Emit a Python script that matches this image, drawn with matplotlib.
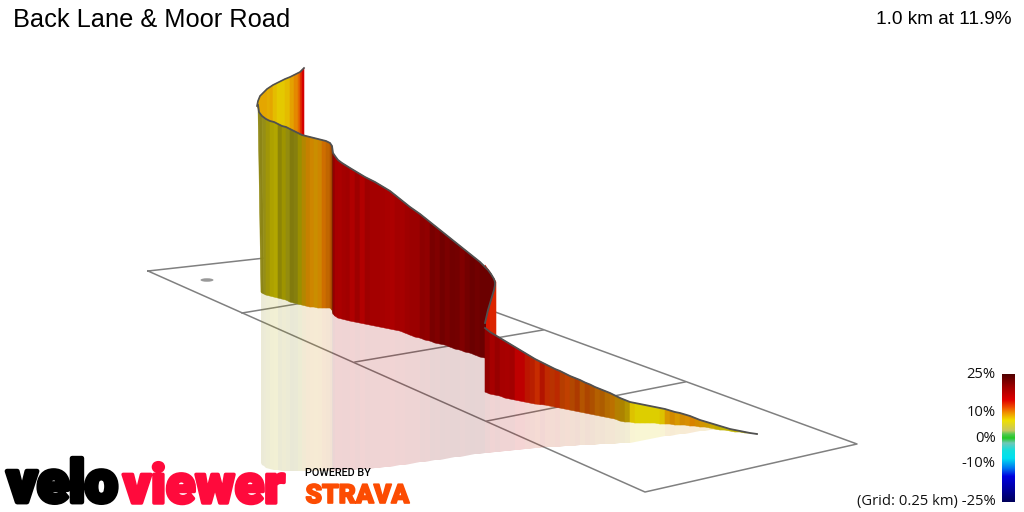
import numpy as np
import matplotlib
matplotlib.use('Agg')
import matplotlib.pyplot as plt
import matplotlib.patheffects as pe
from matplotlib.collections import PolyCollection
from matplotlib.colors import LinearSegmentedColormap
from matplotlib.patches import Ellipse

# grade colour scale
scale_grade = [-25, -20, -15, -12, -8, -5, -2, 0, 1.5, 3, 7, 10, 12, 15, 20, 25]
scale_color = ['#00005a', '#0000a0', '#0000e0', '#0070f0', '#00e0f0', '#10e0e0', '#70c8b8', '#20c820',
               '#50c850', '#c8c860', '#f0e000', '#f09000', '#f05000', '#e00000', '#a00000', '#500000']

# grid on the ground plane, picture pixels
outer_x = [148, 645, 857, 328, 148]
outer_y = [271, 492, 444, 251, 271]
cross_x = [[242, 418], [355, 543], [487, 685]]
cross_y = [[313, 284], [362, 330], [421, 382]]

# far leg of the climb
far_x = [257, 258, 260, 263, 267, 270, 273, 277, 281, 285, 290, 294, 298, 300, 302, 304]
far_top = [106, 101, 96, 93, 89, 87, 85, 83, 81, 79, 77, 75, 73, 72, 70, 68]
far_base = [106, 108, 112, 116, 119, 121, 122, 124, 126, 127, 129, 131, 133, 134, 135, 136]
far_grade = [8.5, 8.5, 8.8, 8.8, 8.5, 8.8, 8, 7.5, 7.5, 8, 9, 10, 11, 13, 15, 17]
far_shade = [0.95] * 16

# middle leg
mid_x = [258, 259, 262, 266, 270, 274, 278, 282, 286, 290, 294, 298, 302, 306, 310, 314, 318, 322, 326, 330,
         332, 333, 335, 338, 342, 346, 350, 355, 360, 365, 370, 375, 380, 385, 390, 395, 400, 405, 410, 415,
         420, 425, 430, 435, 440, 445, 450, 455, 460, 465, 470, 475, 480, 485, 485, 488, 491, 494, 495]
mid_foot = [261, 262, 264, 266, 270, 274, 278, 282, 286, 290, 294, 298, 302, 306, 310, 314, 318, 322, 326, 330,
            332, 333, 335, 338, 342, 346, 350, 355, 360, 365, 370, 375, 380, 385, 390, 395, 400, 405, 410, 415,
            420, 425, 430, 435, 440, 445, 450, 455, 460, 465, 470, 475, 480, 485, 485, 488, 491, 494, 495]
mid_top = [105, 112, 116, 119, 121, 122, 124, 126, 127, 129, 131, 133, 135, 136, 137, 138, 139, 140, 141, 143,
           146, 153, 156, 160, 163, 165.5, 168, 171, 174, 177, 179.5, 182, 185, 188, 191, 195, 199, 203, 207, 210.5,
           214, 218, 222, 226, 230, 234, 238, 242, 246, 250, 254, 258, 262, 267, 267, 270, 274, 279, 282]
mid_base = [292, 293, 294, 295, 296, 297, 298, 299, 300, 302, 303, 304, 305, 306, 307, 307, 308, 308, 308, 308,
            310, 314, 316, 318, 319, 320, 321, 322, 323, 324, 325, 326, 327, 328, 329, 330, 331, 333, 335, 337,
            338, 340, 341, 343, 344, 345, 347, 349, 350, 352, 353, 355, 357, 358, 323, 310, 300, 290, 285]
mid_grade = [6, 5.5, 5.5, 6.5, 7, 7, 6.5, 7, 6, 6, 6, 7, 8.5, 9.5, 9.5, 9, 9.5, 10.5, 10.5, 11,
             12, 16, 16.5, 17, 16.5, 17.5, 16.5, 17, 16, 17, 17.5, 16.5, 17, 16, 16.5, 17.5, 17, 18, 19, 18,
             20, 19, 21.5, 20.5, 22, 21, 22, 21.5, 20.5, 21.5, 22.5, 21.5, 22.5, 22.5, 22.5, 22.5, 22.5, 22.5, 22.5]
mid_shade = [0.62, 0.62, 0.66, 0.68, 0.72, 0.74, 0.6, 0.66, 0.64, 0.56, 0.58, 0.64, 0.74, 0.82, 0.86, 0.84, 0.86, 0.86, 0.8, 0.75,
             0.5, 0.7, 0.82, 0.86, 0.8, 0.84, 0.86, 0.8, 0.84, 0.8, 0.86, 0.8, 0.84, 0.8, 0.84, 0.86, 0.84, 0.86, 0.9, 0.84,
             0.88, 0.84, 0.9, 0.84, 0.9, 0.86, 0.9, 0.86, 0.84, 0.86, 0.9, 0.84, 0.9, 0.9, 0.9, 0.9, 0.9, 0.9, 0.9]

# short piece seen from behind at the corner
back_x = [485, 490, 496]
back_top = [265, 272, 282]
back_base = [330, 333, 337]
back_grade = [14, 13.5, 13]
back_shade = [0.95, 0.95, 0.95]

# near leg down to the start
near_x = [485, 490, 495, 500, 505, 510, 515, 520, 525, 530, 535, 540, 545, 550, 555, 560, 565, 570, 575, 580,
          585, 590, 595, 600, 605, 610, 615, 620, 625, 630, 635, 640, 645, 650, 655, 660, 665, 670, 675, 680,
          685, 690, 695, 700, 705, 710, 715, 720, 725, 730, 735, 740, 745, 750, 757]
near_top = [328, 332, 335, 338, 341, 344, 347, 350, 353, 356, 359, 361.5, 364, 366.5, 369, 371, 373.5, 376, 378, 380,
            382.5, 384.5, 387, 389, 391, 393, 395.5, 398, 400, 402, 403, 404, 405, 406, 407, 408, 409, 410.5, 412, 413,
            414.5, 416, 418, 420, 421.5, 423, 424.5, 426, 427.5, 429, 430, 431, 432, 433, 434]
near_base = [392, 394, 395, 396, 398, 399, 400, 401, 402, 403, 404, 404.5, 405, 406, 407, 408, 409, 410, 411, 412,
             413, 414, 415, 416, 417, 418, 419, 421, 422, 422, 423, 423, 423, 423, 423, 424, 424, 424, 425, 425,
             425, 426, 426, 427, 427, 428, 429, 430, 430, 431, 432, 432, 433, 433, 434]
near_grade = [19, 18, 18.5, 18, 17, 17.5, 16, 15, 14, 13.5, 13, 14, 13, 12.5, 13, 12, 12, 11.5, 12, 11,
              11.5, 11, 10.5, 10.5, 10, 10, 9, 8.5, 8, 7.5, 7, 7, 7, 7, 7, 7.5, 9, 9.5, 9, 9.5,
              9.5, 10, 9.5, 9, 8.5, 8, 7.5, 7, 7, 7, 7, 7, 7, 7, 7]
near_shade = [0.85, 0.9, 0.85, 0.9, 0.85, 0.85, 0.9, 0.85, 0.82, 0.8, 0.85, 0.78, 0.82, 0.78, 0.8, 0.76, 0.8, 0.74, 0.72, 0.75,
              0.72, 0.72, 0.75, 0.72, 0.75, 0.78, 0.75, 0.72, 0.75, 0.92, 0.92, 0.92, 0.92, 0.92, 0.92, 0.92, 0.9, 0.88, 0.9, 0.88,
              0.9, 0.9, 0.88, 0.88, 0.85, 0.85, 0.8, 0.8, 0.8, 0.8, 0.8, 0.75, 0.75, 0.7, 0.7]

# lower edge of the pale reflection
mid_refl = [463, 465, 466, 468, 469, 470, 470, 471, 471, 471, 471, 471, 471, 471, 471, 471, 471, 471, 471, 471,
            471, 471, 471, 471, 470, 470, 470, 470, 469, 469, 469, 468, 468, 467, 467, 466, 465, 465, 464, 463,
            462, 462, 461, 460, 460, 459, 458, 457, 457, 456, 455, 454, 454, 453, 453, 453, 453, 453, 453]
near_refl = [453, 453, 452, 452, 451, 451, 450, 450, 449, 449, 448, 448, 447, 447, 447, 447, 446, 446, 446, 445,
             445, 445, 445, 444, 444, 444, 444, 443, 443, 443, 442, 441, 440, 439, 438, 437, 436, 436, 435, 434,
             434, 433, 432, 431, 431, 430, 430, 430, 431, 431, 432, 432, 433, 433, 434]

# legend
legend_ticks = [25, 10, 0, -10, -25]
legend_labels = ['25%', '10%', '0%', '-10%', '(Grid: 0.25 km) -25%']

stops = [(g + 25) / 50 for g in scale_grade]
grade_cmap = LinearSegmentedColormap.from_list('grade', list(zip(stops, scale_color)), N=512)


def wall_colors(grade, shade):
    cols = grade_cmap((np.array(grade) + 25) / 50)[:, :3]
    return cols * np.array(shade)[:, None]


def draw_wall(ax, x, top, base, grade, shade, foot=None, zorder=3):
    if foot is None:
        foot = x
    quads = []
    for i in range(len(x) - 1):
        quads.append([(x[i], top[i]), (x[i + 1], top[i + 1]), (foot[i + 1], base[i + 1]), (foot[i], base[i])])
    cols = wall_colors(grade, shade)[:-1]
    ax.add_collection(PolyCollection(quads, facecolors=cols, edgecolors=cols, linewidths=0.4, zorder=zorder))


def draw_reflection(ax, x, base, refl, grade, shade, zorder=2):
    quads = []
    for i in range(len(x) - 1):
        quads.append([(x[i], base[i]), (x[i + 1], base[i + 1]), (x[i + 1], refl[i + 1]), (x[i], refl[i])])
    cols = wall_colors(grade, shade)[:-1]
    rgba = np.column_stack([cols, np.full(len(cols), 0.17)])
    ax.add_collection(PolyCollection(quads, facecolors=rgba, edgecolors='none', linewidths=0, zorder=zorder))


fig = plt.figure(figsize=(10.24, 5.12), dpi=100)
ax = fig.add_axes([0, 0, 1, 1])

# grid
grid_col = '#808080'
ax.plot(outer_x, outer_y, color=grid_col, lw=1.1, zorder=1)
for cx, cy in zip(cross_x, cross_y):
    ax.plot(cx, cy, color=grid_col, lw=1.1, zorder=1)
ax.add_patch(Ellipse((207, 280), 13, 3.5, color='#999999', lw=0, zorder=1))

# reflections
draw_reflection(ax, mid_foot[:54], mid_base[:54], mid_refl[:54], mid_grade[:54], mid_shade[:54])
draw_reflection(ax, near_x, near_base, near_refl, near_grade, near_shade)

# walls, far to near
draw_wall(ax, far_x, far_top, far_base, far_grade, far_shade, zorder=3)
draw_wall(ax, back_x, back_top, back_base, back_grade, back_shade, zorder=3)
draw_wall(ax, mid_x, mid_top, mid_base, mid_grade, mid_shade, foot=mid_foot, zorder=4)
draw_wall(ax, near_x, near_top, near_base, near_grade, near_shade, zorder=5)

edge_col = '#505050'
ax.plot(far_x, far_top, color=edge_col, lw=1.2, zorder=6)
ax.plot(mid_x + mid_x[-5:][::-1], mid_top + mid_base[-5:][::-1], color=edge_col, lw=1.3, zorder=6)
ax.plot(near_x, near_top, color=edge_col, lw=1.3, zorder=6)

# legend bar
bar = np.linspace(1, 0, 256)[:, None]
ax.imshow(bar, cmap=grade_cmap, extent=(1002, 1015, 502.5, 375), aspect='auto', zorder=3)
for t, lab in zip(legend_ticks, legend_labels):
    ax.text(995.5, 438 - t * 2.54, lab, ha='right', va='center', fontsize=10.6, family='Open Sans', color='#111111')

# titles
ax.text(13, 20, 'Back Lane & Moor Road', ha='left', va='center', fontsize=18.3, family='Liberation Sans', color='black')
ax.text(1011, 20, '1.0 km at 11.9%', ha='right', va='center', fontsize=13.7, family='Liberation Sans', color='black')

# logo
thick = [pe.withStroke(linewidth=3.5, foreground='black')]
ax.text(7, 502, 'velo', ha='left', va='baseline', fontsize=42, family='Roboto', fontweight='black',
        color='black', path_effects=thick, zorder=7)
thick_red = [pe.withStroke(linewidth=2.5, foreground='#ff0a3c')]
ax.text(123, 503, 'viewer', ha='left', va='baseline', fontsize=39, family='Roboto', fontweight='black',
        color='#ff0a3c', path_effects=thick_red, zorder=7)
ax.text(305, 473, 'POWERED BY', ha='left', va='center', fontsize=7.8, family='Roboto', fontweight='medium',
        color='black', zorder=7)
thick_orange = [pe.withStroke(linewidth=1.2, foreground='#fc4c02')]
ax.text(305.5, 503, 'STRAVA', ha='left', va='baseline', fontsize=19, family='Roboto', fontweight='black',
        color='#fc4c02', path_effects=thick_orange, zorder=7)

ax.set_xlim(0, 1024)
ax.set_ylim(512, 0)
ax.axis('off')

fig.savefig('out.png', dpi=100)
